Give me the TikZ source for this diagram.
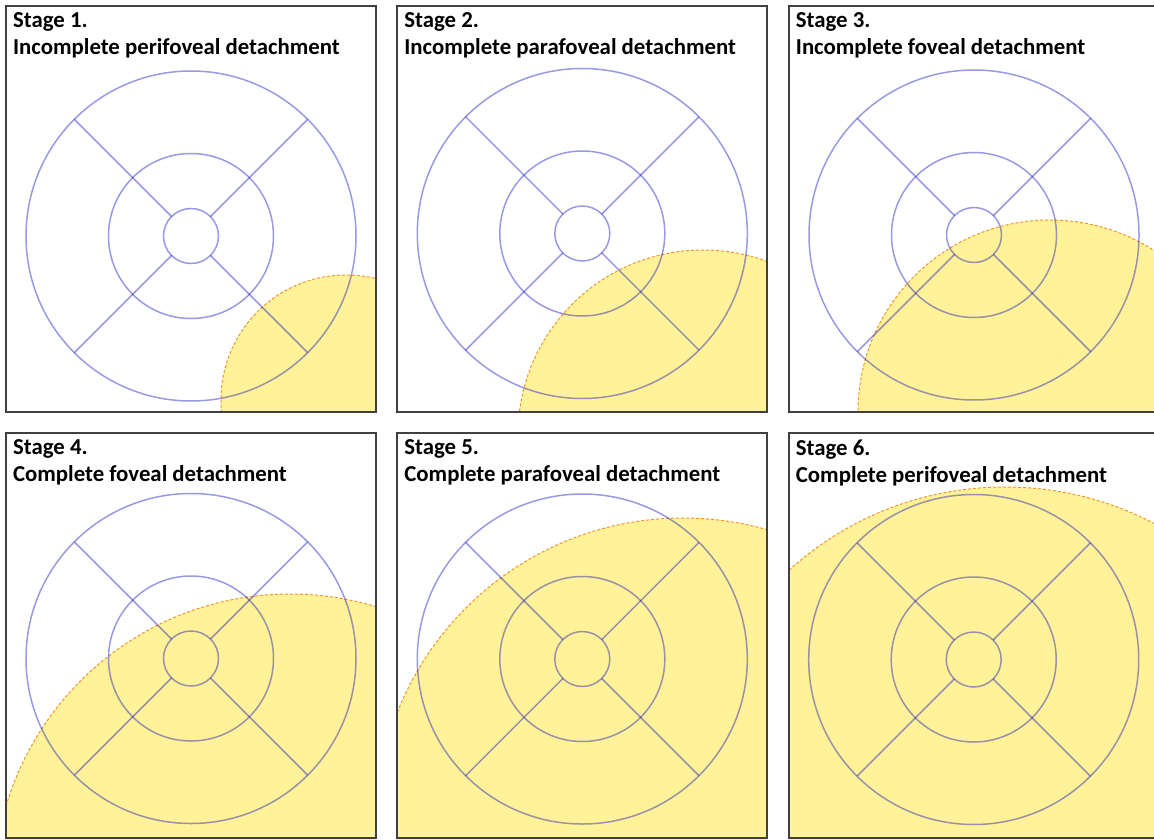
\documentclass[tikz,border=0pt]{standalone}
\usepackage{fontspec}
\setmainfont{Carlito}
\usepackage{tikz}
\definecolor{detyellow}{RGB}{255,242,153}
\definecolor{detorange}{RGB}{240,150,40}
\definecolor{gridblue}{RGB}{0,0,190}
\tikzset{
	panelbox/.style={draw=black!75, line width=0.6pt},
	gridline/.style={draw=gridblue, draw opacity=0.4, line width=0.75pt},
	detachfill/.style={fill=detyellow, draw=detorange, dash pattern=on 1.5pt off 1pt, line width=0.5pt},
	stagetitle/.style={anchor=north west, align=left, inner sep=0pt, font=\bfseries\fontsize{11.4pt}{13.5pt}\selectfont},
	maculagrid/.pic={
		\draw[gridline] (0,0) circle[radius=165];
		\draw[gridline] (0,0) circle[radius=82.5];
		\draw[gridline] (0,0) circle[radius=27.5];
		\draw[gridline] (45:27.5) -- (45:165);
		\draw[gridline] (135:27.5) -- (135:165);
		\draw[gridline] (225:27.5) -- (225:165);
		\draw[gridline] (315:27.5) -- (315:165);
	}
}

\begin{document}
\begin{tikzpicture}[x=0.5pt, y=-0.5pt]
	\useasboundingbox (0,0) rectangle (1154,839);
	
	% stage 1
	\begin{scope}
		\clip (6,6) rectangle (376,412);
		\filldraw[detachfill] (346,400) circle[radius=125];
	\end{scope}
	\pic at (191,236) {maculagrid};
	\draw[panelbox] (6,6) rectangle (376,412);
	\node[stagetitle] (s1) at (12.7,12.5) {Stage 1.\\Incomplete perifoveal detachment};
	
	% stage 2
	\begin{scope}
		\clip (397,6) rectangle (767,412);
		\filldraw[detachfill] (703,435) circle[radius=185];
	\end{scope}
	\pic at (582.3,233.5) {maculagrid};
	\draw[panelbox] (397,6) rectangle (767,412);
	\node[stagetitle] (s2) at (404,12.5) {Stage 2.\\Incomplete parafoveal detachment};
	
	% stage 3
	\begin{scope}
		\clip (789,6) rectangle (1159,412);
		\filldraw[detachfill] (1050,412) circle[radius=192];
	\end{scope}
	\pic at (974,235) {maculagrid};
	\draw[panelbox] (789,6) rectangle (1159,412);
	\node[stagetitle] (s3) at (795.5,12.5) {Stage 3.\\Incomplete foveal detachment};
	
	% stage 4
	\begin{scope}
		\clip (6,433) rectangle (376,839);
		\filldraw[detachfill] (290,890) circle[radius=296];
	\end{scope}
	\pic at (191,658.5) {maculagrid};
	\draw[panelbox] (6,433) rectangle (376,838);
	\node[stagetitle] (s4) at (12.7,439.5) {Stage 4.\\Complete foveal detachment};
	
	% stage 5
	\begin{scope}
		\clip (397,433) rectangle (767,839);
		\filldraw[detachfill] (683,825) circle[radius=307];
	\end{scope}
	\pic at (582.3,659) {maculagrid};
	\draw[panelbox] (397,433) rectangle (767,838);
	\node[stagetitle] (s5) at (404,439.5) {Stage 5.\\Complete parafoveal detachment};
	
	% stage 6
	\begin{scope}
		\clip (789,433) rectangle (1159,839);
		\filldraw[detachfill] (1005,800) ellipse[x radius=318, y radius=313];
	\end{scope}
	\pic at (973.7,659.5) {maculagrid};
	\draw[panelbox] (789,433) rectangle (1159,838);
	\node[stagetitle] (s6) at (795.5,439.5) {Stage 6.\\Complete perifoveal detachment};
\end{tikzpicture}
\end{document}
